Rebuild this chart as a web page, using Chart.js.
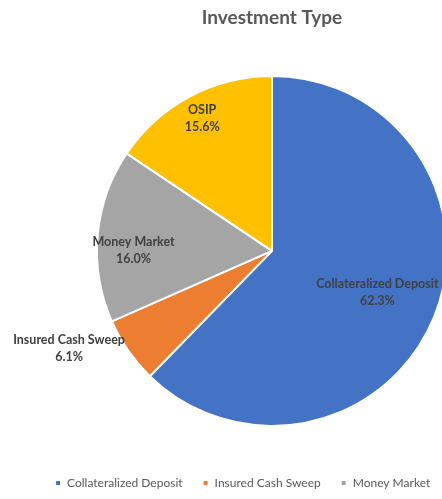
<!DOCTYPE html>
<html>
<head>
<meta charset="utf-8">
<script src="https://cdn.jsdelivr.net/npm/chart.js@4.4.1/dist/chart.umd.min.js"></script>
<style>
  html, body { margin: 0; padding: 0; background: #fff; overflow: hidden; }
  #wrap { width: 544px; height: 499px; }
</style>
</head>
<body>
<div id="wrap"><canvas id="investChart" width="544" height="499"></canvas></div>
<script>
// Portfolio split by investment type (percent of total)
const categories = ['Collateralized Deposit', 'Insured Cash Sweep', 'Money Market', 'OSIP'];
const shares = [62.3, 6.1, 16.0, 15.6];
const sliceColors = ['#4472C4', '#ED7D31', '#A5A5A5', '#FFC000'];

// Where each label sits: fraction of the radius (or 'outside'), plus a small nudge
const labelPlacement = [0.65, 'outside', 0.8, 0.86];
const labelNudge = [[0, -2], [3, 0], [1, 11], [1, 0]];

const FONT = "Lato, 'Open Sans', sans-serif";

// Draws "name / pct" labels on (or next to) each slice
const sliceLabels = {
    id: 'sliceLabels',
    afterDatasetsDraw(chart) {
        const ctx = chart.ctx;
        const meta = chart.getDatasetMeta(0);
        ctx.save();
        ctx.font = `bold 12.5px ${FONT}`;
        ctx.fillStyle = '#404040';
        ctx.textBaseline = 'middle';
        meta.data.forEach((arc, i) => {
            const p = arc.getProps(['x', 'y', 'startAngle', 'endAngle', 'outerRadius'], true);
            const mid = (p.startAngle + p.endAngle) / 2;
            const lines = [categories[i], shares[i].toFixed(1) + '%'];
            let x, y;
            if (labelPlacement[i] === 'outside') {
                const ex = p.x + Math.cos(mid) * (p.outerRadius + 4);
                const ey = p.y + Math.sin(mid) * (p.outerRadius + 4);
                const w = Math.max(...lines.map(l => ctx.measureText(l).width));
                x = ex - w / 2 - 3;
                y = ey - 5;
            } else {
                const r = p.outerRadius * labelPlacement[i];
                x = p.x + Math.cos(mid) * r;
                y = p.y + Math.sin(mid) * r;
            }
            x += labelNudge[i][0];
            y += labelNudge[i][1];
            ctx.textAlign = 'center';
            ctx.fillText(lines[0], x, y - 8);
            ctx.fillText(lines[1], x, y + 9);
        });
        ctx.restore();
    }
};

new Chart(document.getElementById('investChart'), {
    type: 'pie',
    data: {
        labels: categories,
        datasets: [{
            data: shares,
            backgroundColor: sliceColors,
            borderColor: '#ffffff',
            borderWidth: 2,
            radius: 175
        }]
    },
    options: {
        responsive: false,
        animation: false,
        plugins: {
            title: {
                display: true,
                text: 'Investment Type',
                color: '#595959',
                font: { family: FONT, size: 19, weight: 'bold' },
                padding: { top: 6, bottom: 16 }
            },
            legend: {
                position: 'bottom',
                labels: {
                    usePointStyle: true,
                    pointStyle: 'rect',
                    boxWidth: 6,
                    boxHeight: 6,
                    padding: 20,
                    color: '#595959',
                    font: { family: FONT, size: 12 }
                }
            },
            tooltip: { enabled: false }
        }
    },
    plugins: [sliceLabels]
});
</script>
</body>
</html>
